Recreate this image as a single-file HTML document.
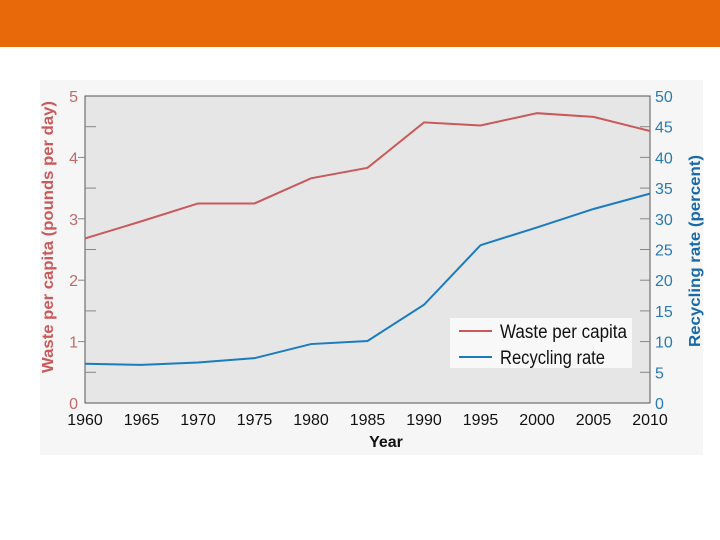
<!DOCTYPE html>
<html><head><meta charset="utf-8"><style>
body{margin:0;width:720px;height:540px;background:#fff;overflow:hidden;font-family:"Liberation Sans",sans-serif}
</style></head><body>
<div style="position:absolute;left:0;top:0;width:720px;height:47px;background:#E8690A"></div>
<svg id="c" width="720" height="540" style="position:absolute;left:0;top:0">
<rect x="40" y="80" width="663" height="375" fill="#f6f6f6"/>
<rect x="85" y="96" width="565" height="307" fill="#e6e6e6" stroke="#555" stroke-width="1"/>
</svg>
<script>
const years=[1960,1965,1970,1975,1980,1985,1990,1995,2000,2005,2010];
const waste=[2.68,2.96,3.25,3.25,3.66,3.83,4.57,4.52,4.72,4.66,4.43];
const recycling=[6.4,6.2,6.6,7.3,9.6,10.1,16.0,25.7,28.6,31.6,34.1];
const leftTicks=[0,1,2,3,4,5];
const rightTicks=[0,5,10,15,20,25,30,35,40,45,50];
const svg=document.getElementById('c');
const NS='http://www.w3.org/2000/svg';
const X0=85,X1=650,Y0=403,Y1=96;
const x=v=>X0+(v-1960)/50*(X1-X0);
const yl=v=>Y0-v/5*(Y0-Y1);
const yr=v=>Y0-v/50*(Y0-Y1);
function mk(t,a,txt){const e=document.createElementNS(NS,t);for(const k in a)e.setAttribute(k,a[k]);if(txt!==undefined)e.textContent=txt;svg.appendChild(e);return e;}
leftTicks.forEach(v=>{
 const t=mk('text',{x:78,y:yl(v)+6,'text-anchor':'end','font-size':16,fill:'#c26a6a'},v);
 
 
 if(v>0&&v<5){const l=mk('line',{x1:78,x2:85,y1:yl(v),y2:yl(v),stroke:'#888'});
 
 }
 if(v<5){const l=mk('line',{x1:85,x2:96,y1:yl(v+0.5),y2:yl(v+0.5),stroke:'#888'});
 
 }
});
rightTicks.forEach(v=>{
 const t=mk('text',{x:655,y:yr(v)+6,'font-size':16,fill:'#2a7ab0'},v);
 
 
 if(v>0&&v<50){const l=mk('line',{x1:640,x2:650,y1:yr(v),y2:yr(v),stroke:'#888'});
 
 }
});
years.forEach(v=>{
 const t=mk('text',{x:x(v),y:425,'text-anchor':'middle','font-size':16,fill:'#111'},v);
 
 
});
const lw=mk('polyline',{points:years.map((v,i)=>x(v)+','+yl(waste[i])).join(' '),fill:'none',stroke:'#c9595a','stroke-width':2});


const lr=mk('polyline',{points:years.map((v,i)=>x(v)+','+yr(recycling[i])).join(' '),fill:'none',stroke:'#1a7bbf','stroke-width':2});


const xt=mk('text',{x:386,y:447,'text-anchor':'middle','font-size':16,'font-weight':'bold',fill:'#111'},'Year');


const ytl=mk('text',{transform:'translate(53,237) rotate(-90)','text-anchor':'middle','font-size':16,'font-weight':'bold',fill:'#c9595a',textLength:272,lengthAdjust:'spacingAndGlyphs'},'Waste per capita (pounds per day)');


const ytr=mk('text',{transform:'translate(700,251) rotate(-90)','text-anchor':'middle','font-size':16,'font-weight':'bold',fill:'#1a6aa8',textLength:192,lengthAdjust:'spacingAndGlyphs'},'Recycling rate (percent)');


const lg=mk('rect',{x:450,y:318,width:182,height:50,fill:'#f8f8f8'});


[['Waste per capita','#c9595a',331],['Recycling rate','#1a7bbf',357]].forEach(d=>{
 const l=mk('line',{x1:459,x2:492,y1:d[2],y2:d[2],stroke:d[1],'stroke-width':2});
 
 
 const t=mk('text',{x:500,y:d[2]+7,'font-size':19,fill:'#111',textLength:d[0].length>14?127:105,lengthAdjust:'spacingAndGlyphs'},d[0]);
 
 
});
</script>
</body></html>
